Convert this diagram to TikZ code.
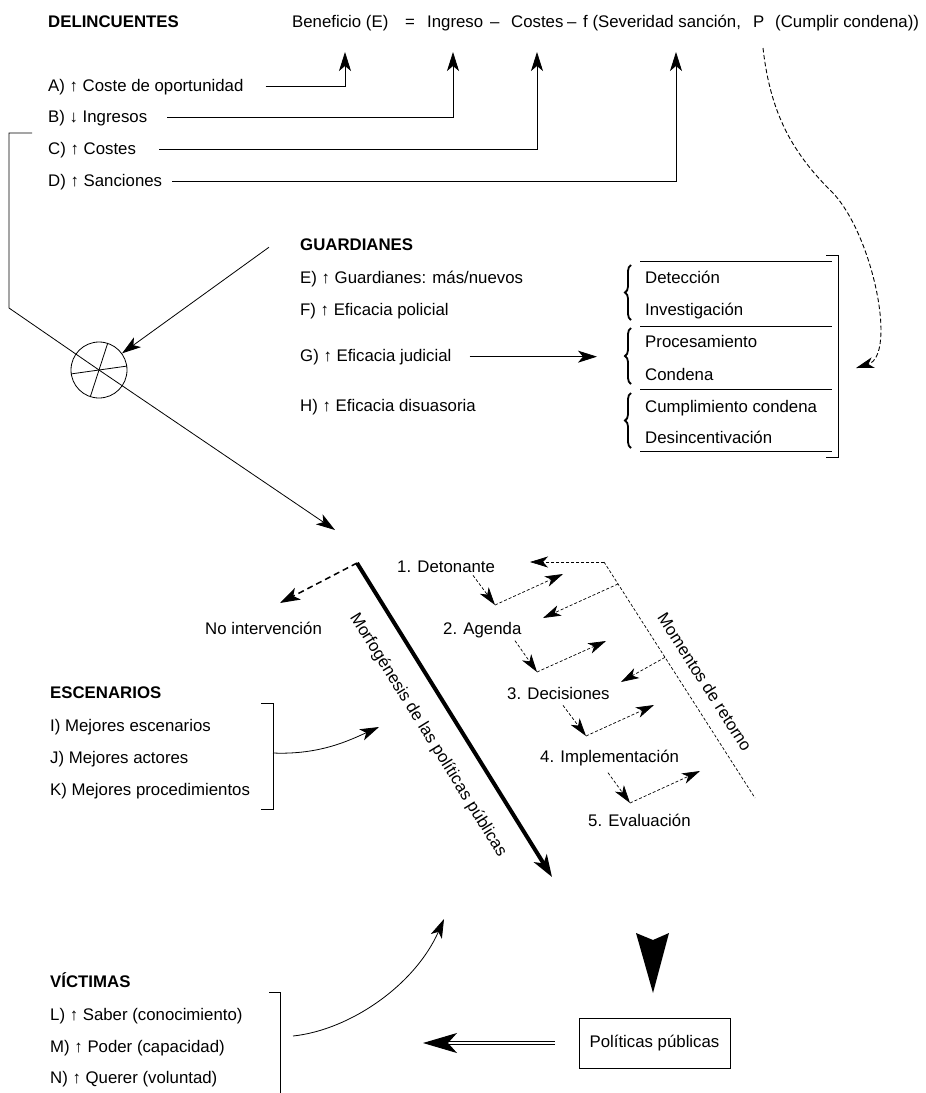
\documentclass[tikz,border=0pt]{standalone}
\usepackage{fontspec}
\setmainfont{Liberation Sans}
\usetikzlibrary{arrows.meta,decorations.pathreplacing,positioning}

\begin{document}
\begin{tikzpicture}[x=1pt,y=-1pt,
    every node/.style={font=\fontsize{16.8}{20}\selectfont, inner sep=0pt},
    txt/.style={anchor=base west},
    head/.style={anchor=base west, font=\fontsize{16.8}{20}\selectfont\bfseries},
    arr/.style={line width=0.8pt, -{Stealth[length=19pt,width=12pt,inset=5pt]}},
    dots/.style={line width=0.7pt, dash pattern=on 3pt off 2pt},
    dotarr/.style={dots, -{Stealth[length=18pt,width=11pt,inset=5pt]}},
    brk/.style={line width=0.8pt}
  ]
  \useasboundingbox (0,0) rectangle (926,1093);

  % delincuentes
  \node[head] (delinc) at (48,27) {DELINCUENTES};
  \node[txt] (fBen) at (292,27) {Beneficio (E)};
  \node[txt] (fEq) at (405,27) {=};
  \node[txt] (fIng) at (427,27) {Ingreso};
  \node[txt] (fMin) at (490,27) {–};
  \node[txt] (fCos) at (511,27) {Costes};
  \node[txt] (fMin2) at (567,27) {–};
  \node[txt] (fSev) at (583,27) {f (Severidad sanción,};
  \node[txt] (fP) at (753,27) {P};
  \node[txt] (fCum) at (775,27) {(Cumplir condena))};

  \node[txt] (dA) at (48,91) {A) ↑ Coste de oportunidad};
  \node[txt] (dB) at (48,122.5) {B) ↓ Ingresos};
  \node[txt] (dC) at (48,154.5) {C) ↑ Costes};
  \node[txt] (dD) at (48,186.5) {D) ↑ Sanciones};

  \coordinate (tBen) at (345,52);
  \coordinate (tIng) at (453,52);
  \coordinate (tCos) at (537,52);
  \coordinate (tSev) at (676,52);
  \draw[arr] ([xshift=22pt,yshift=5pt]dA.base east) -| (tBen);
  \draw[arr] ([xshift=20pt,yshift=5pt]dB.base east) -| (tIng);
  \draw[arr] ([xshift=23pt,yshift=5pt]dC.base east) -| (tCos);
  \draw[arr] ([xshift=10pt,yshift=5pt]dD.base east) -| (tSev);

  % cruce
  \node[circle, draw, line width=0.8pt, minimum size=56pt] (mix) at (99,370) {};
  \draw[line width=0.8pt] (mix.188) -- (mix.8);
  \draw[line width=0.8pt] (mix.252) -- (mix.72);
  \coordinate (bk) at (32,133);
  \coordinate (elbow) at (9,308);
  \coordinate (tMorf) at (335,530);
  \draw[brk] (bk) -| (elbow) -- (mix.center);
  \draw[arr] (mix.center) -- (tMorf);

  % guardianes
  \node[head] (guard) at (300,250) {GUARDIANES};
  \node[txt] (gE) at (300,283) {E) ↑ Guardianes: más/nuevos};
  \node[txt] (gF) at (300,315) {F) ↑ Eficacia policial};
  \node[txt] (gG) at (300,361) {G) ↑ Eficacia judicial};
  \node[txt] (gH) at (300,411) {H) ↑ Eficacia disuasoria};
  \draw[arr] ([xshift=-31pt,yshift=-3pt]guard.west) -- (mix);

  \node[txt] (rDet) at (645,283) {Detección};
  \node[txt] (rInv) at (645,315) {Investigación};
  \node[txt] (rPro) at (645,347) {Procesamiento};
  \node[txt] (rCon) at (645,380) {Condena};
  \node[txt] (rCum) at (645,412) {Cumplimiento condena};
  \node[txt] (rDes) at (645,443) {Desincentivación};
  \draw[arr] ([xshift=18pt]gG.east) -- ([xshift=-48pt]gG.east -| rPro.west);
  \foreach \y in {261,326,389,451}
    \draw[line width=0.8pt] (640,\y) -- (832,\y);
  \foreach \a/\b in {265/320,328/384,393/448}
    \draw[decorate, decoration={brace,amplitude=6pt}, line width=1.8pt] (631,\b) -- (631,\a);
  \draw[brk] (826,255) -- (838,255) -- (838,457) -- (826,457);

  \coordinate (sP) at (763,48);
  \coordinate (tBr) at (856,368);
  \draw[line width=0.9pt, dash pattern=on 4.5pt off 2.5pt, -{Stealth[length=18pt,width=11pt,inset=5pt]}]
    (sP) .. controls (770,110) and (790,150) .. (830,190)
         .. controls (872,230) and (898,355) .. (tBr);

  % morfogenesis
  \coordinate (mTop) at (357,563);
  \coordinate (mEnd) at (552,877);
  \coordinate (tNo) at (280,603);
  \draw[line width=4pt, -{Stealth[length=22pt,width=15pt,inset=6pt]}] (mTop) -- (mEnd);
  \draw[line width=1.5pt, dash pattern=on 6pt off 4pt, -{Stealth[length=20pt,width=13pt,inset=5pt]}] (mTop) -- (tNo);
  \node[txt] (noint) at (205,634) {No intervención};
  \node[rotate=-58.2] (morftxt) at (428,735) {Morfogénesis de las políticas públicas};

  \node[txt] (s1) at (397,572) {1. Detonante};
  \node[txt] (s2) at (443,634) {2. Agenda};
  \node[txt] (s3) at (507,699) {3. Decisiones};
  \node[txt] (s4) at (540,762) {4. Implementación};
  \node[txt] (s5) at (588,826) {5. Evaluación};

  \coordinate (c1) at (495,605); \coordinate (u1) at (563,574);
  \coordinate (c2) at (537,672); \coordinate (u2) at (606,641);
  \coordinate (c3) at (586,736); \coordinate (u3) at (654,705);
  \coordinate (c4) at (630,803); \coordinate (u4) at (700,771);
  \draw[dotarr] ([xshift=76pt,yshift=-3pt]s1.south west) -- (c1);
  \draw[dotarr] (c1) -- (u1);
  \draw[dotarr] ([xshift=72pt,yshift=-3pt]s2.south west) -- (c2);
  \draw[dotarr] (c2) -- (u2);
  \draw[dotarr] ([xshift=56pt,yshift=-6pt]s3.south west) -- (c3);
  \draw[dotarr] (c3) -- (u3);
  \draw[dotarr] ([xshift=68pt,yshift=-7pt]s4.south west) -- (c4);
  \draw[dotarr] (c4) -- (u4);

  % retorno
  \coordinate (rTop) at (604,562);
  \coordinate (rEnd) at (755,798);
  \coordinate (b1) at (530,562);
  \coordinate (b2) at (543,618);
  \coordinate (b3) at (621,682);
  \draw[dots] (rTop) -- coordinate[pos=0.093] (r2) coordinate[pos=0.404] (r3) (rEnd);
  \draw[dotarr] (rTop) -- (b1);
  \draw[dotarr] (r2) -- (b2);
  \draw[dotarr] (r3) -- (b3);
  \node[rotate=-57.4] (momtxt) at (705,682) {Momentos de retorno};

  % escenarios
  \node[head] (esc) at (50,698) {ESCENARIOS};
  \node[txt] (eI) at (50,731) {I) Mejores escenarios};
  \node[txt] (eJ) at (50,763) {J) Mejores actores};
  \node[txt] (eK) at (50,795) {K) Mejores procedimientos};
  \draw[brk] (261,703) -- (273,703) -- (273,809) -- (261,809);
  \coordinate (escbr) at (273,753);
  \coordinate (tEsc) at (379,727);
  \draw[arr] (escbr) .. controls (320,755) and (350,740) .. (tEsc);

  % victimas
  \node[head] (vic) at (50,987) {VÍCTIMAS};
  \node[txt] (vL) at (50,1020) {L) ↑ Saber (conocimiento)};
  \node[txt] (vM) at (50,1052) {M) ↑ Poder (capacidad)};
  \node[txt] (vN) at (50,1083) {N) ↑ Querer (voluntad)};
  \draw[brk] (269,992) -- (280,992) -- (280,1093);
  \coordinate (vicbr) at (293,1036);
  \coordinate (tVic) at (444,919);
  \draw[arr] (vicbr) .. controls (350,1030) and (415,985) .. (tVic);

  % politicas publicas
  \node[draw, line width=0.9pt, minimum width=151pt, minimum height=50pt] (pp) at (654.5,1043) {Políticas públicas};
  \coordinate (tDbl) at (423,1043);
  \draw[double, double distance=2pt, line width=1pt, -{Stealth[length=34pt,width=20pt,inset=9pt]}] ([xshift=-24pt]pp.west) -- (tDbl);
  \fill (636,933) -- (653,993) -- (669,933) -- (653,940) -- cycle;
\end{tikzpicture}
\end{document}
